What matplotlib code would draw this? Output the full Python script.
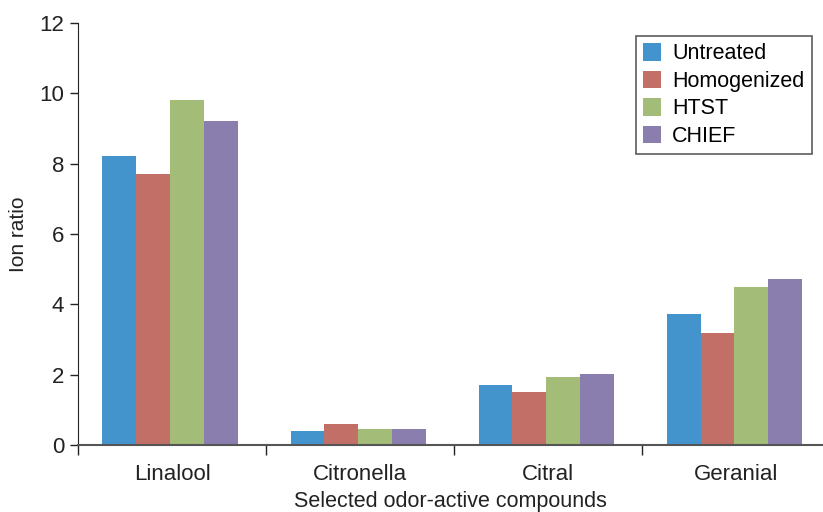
import numpy as np
import matplotlib.pyplot as plt

plt.rcParams['font.family'] = ['Liberation Sans', 'DejaVu Sans']

compounds = ['Linalool', 'Citronella', 'Citral', 'Geranial']
treatments = ['Untreated', 'Homogenized', 'HTST', 'CHIEF']
untreated = [8.22, 0.40, 1.71, 3.72]
homogenized = [7.70, 0.60, 1.51, 3.18]
htst = [9.81, 0.45, 1.93, 4.49]
chief = [9.21, 0.45, 2.02, 4.72]
colors = ['#4394CD', '#C26F68', '#A3BC78', '#8A7EAE']

series = [untreated, homogenized, htst, chief]

fig = plt.figure(figsize=(8.23, 5.12), dpi=100)
ax = fig.add_axes([0.0948, 0.131, 0.905, 0.824])

x = np.arange(len(compounds))
width = 0.18
for i, (vals, name) in enumerate(zip(series, treatments)):
    ax.bar(x + (i - 1.5) * width - 0.01, vals, width, color=colors[i], label=name)

ax.set_xlim(-0.5, 3.46)
ax.set_ylim(0, 12)
ax.set_yticks(range(0, 13, 2))

# group separators as major ticks, labels on minor ticks
ax.set_xticks(np.arange(-0.5, 3.5, 1))
ax.set_xticklabels([])
ax.set_xticks(x, minor=True)
ax.set_xticklabels(compounds, minor=True)
ax.tick_params(axis='x', which='major', direction='out', length=7, width=1, color='#222222')
ax.tick_params(axis='x', which='minor', length=0, pad=14, labelsize=16, labelcolor='#222222')
ax.tick_params(axis='y', direction='out', length=6, width=1, color='#222222', labelsize=16,
               labelcolor='#222222', pad=4)

ax.spines['top'].set_visible(False)
ax.spines['right'].set_visible(False)
ax.spines['left'].set_color('#222222')
ax.spines['bottom'].set_color('#555555')
ax.spines['bottom'].set_linewidth(1.5)

ax.set_ylabel('Ion ratio', fontsize=15, color='#222222', labelpad=8)
ax.set_xlabel('Selected odor-active compounds', fontsize=15.5, color='#222222', labelpad=4)

leg = ax.legend(loc='upper right', bbox_to_anchor=(0.994, 0.985), fontsize=15.5, fancybox=False,
                frameon=True, edgecolor='#333333', handlelength=0.85, handleheight=0.85,
                handletextpad=0.5, labelspacing=0.3, borderpad=0.35, borderaxespad=0.3)
leg.get_frame().set_linewidth(1.2)

fig.savefig('out.png', dpi=100)
